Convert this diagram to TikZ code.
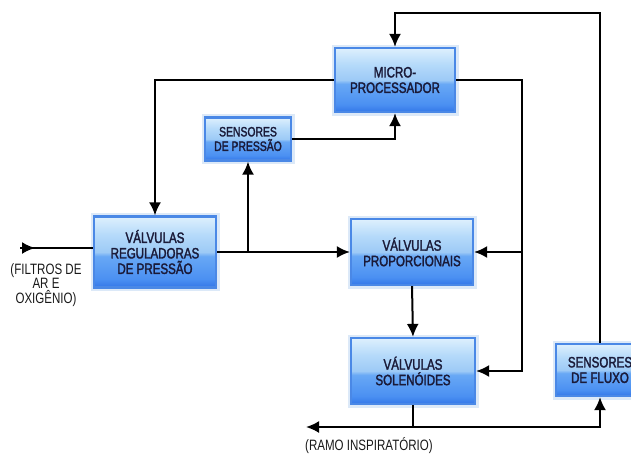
\documentclass[tikz,border=0pt]{standalone}
\usepackage{fontspec}
\newfontfamily\nf[FakeStretch=0.77]{Liberation Sans}
\newfontfamily\nfb[FakeStretch=0.77,FakeBold=2]{Liberation Sans}
\usetikzlibrary{arrows.meta,calc}
\definecolor{bbord}{HTML}{4A88E6}
\definecolor{glow}{HTML}{DCE9F8}
\definecolor{txt}{HTML}{1A1A38}
\definecolor{c0}{HTML}{3377E8}
\definecolor{c1}{HTML}{4B90F2}
\definecolor{c2}{HTML}{68A8F5}
\definecolor{c3}{HTML}{9DCAF6}
\definecolor{c4}{HTML}{B5DAFA}
\definecolor{c5}{HTML}{DEF0FD}
\pgfdeclareverticalshading{boxshade}{100bp}{color(0bp)=(c0); color(25bp)=(c0); color(31bp)=(c1); color(47bp)=(c2); color(50bp)=(c3); color(62bp)=(c4); color(75bp)=(c5); color(100bp)=(c5)}
\tikzset{
  blk/.style={rectangle, draw=bbord, line width=2.2pt, shade, shading=boxshade,
    preaction={draw=glow, line width=7pt}, align=center, text=txt,
    font=\nfb\fontsize{15}{15.5}\selectfont, inner sep=0pt},
  wire/.style={line width=2pt, black},
  tip/.tip={Latex[length=13pt,width=12pt]},
  arr/.style={wire, -tip},
  lbl/.style={font=\nf\fontsize{15}{14.5}\selectfont, text=black!90, inner sep=0pt, align=center}
}
\begin{document}
\begin{tikzpicture}[x=1pt,y=-1pt]
\useasboundingbox (0,0) rectangle (631,455);
\clip (0,0) rectangle (631,455);
\fill[white] (0,0) rectangle (631,455);

\node[blk, minimum width=120pt, minimum height=64pt] (mp) at (395,80) {MICRO-\\PROCESSADOR};
\node[blk, minimum width=86pt, minimum height=43pt, font=\nfb\fontsize{13.5}{14.5}\selectfont] (sp) at (248,139) {SENSORES\\DE PRESSÃO};
\node[blk, minimum width=122pt, minimum height=71pt] (reg) at (155,252) {VÁLVULAS\\REGULADORAS\\DE PRESSÃO};
\node[blk, minimum width=122pt, minimum height=66pt] (prop) at (412,252) {VÁLVULAS\\PROPORCIONAIS};
\node[blk, minimum width=124pt, minimum height=66pt] (sol) at (413,371) {VÁLVULAS\\SOLENÓIDES};
\node[blk, minimum width=88pt, minimum height=52pt] (fl) at (600,370) {SENSORES\\DE FLUXO};

\coordinate (top) at (0,13);
\coordinate (bus) at (522,0);
\coordinate (in) at (20,248);
\coordinate (ramo) at (306,427);

% feedback loop from flow sensors to microprocessor
\draw[arr] (fl.north) -- (fl.north |- top) -| (mp.north);
% microprocessor to regulating valves
\draw[arr] (mp.west) -| (reg.north);
% microprocessor to proportional and solenoid valves
\draw[arr] (mp.east) -| (bus |- sol.east) -- (sol.east);
\draw[arr] (bus |- prop.east) -- (prop.east);
% pressure sensors to microprocessor
\draw[arr] (sp.east) -| (mp.south);
% regulating valves to proportional valves and pressure sensors
\draw[arr] (reg.east) -- (prop.west);
\draw[arr] (sp.south |- reg.east) -- (sp.south);
% input
\draw[wire] (in) -- (in -| reg.west);
\draw[arr] (in) -- ++(15,0);
% proportional to solenoid
\draw[arr] (prop.south) -- (sol.north);
% solenoid to inspiratory branch and flow sensors
\draw[wire] (sol.south) -- (sol.south |- ramo);
\draw[wire, tip-tip] (ramo) -- (fl.south |- ramo) -- (fl.south);

\node[lbl, anchor=west] (ramolbl) at (305,446) {(RAMO INSPIRATÓRIO)};
\node[lbl] (filt) at (46,285) {(FILTROS DE\\AR E\\OXIGÊNIO)};
\end{tikzpicture}
\end{document}
